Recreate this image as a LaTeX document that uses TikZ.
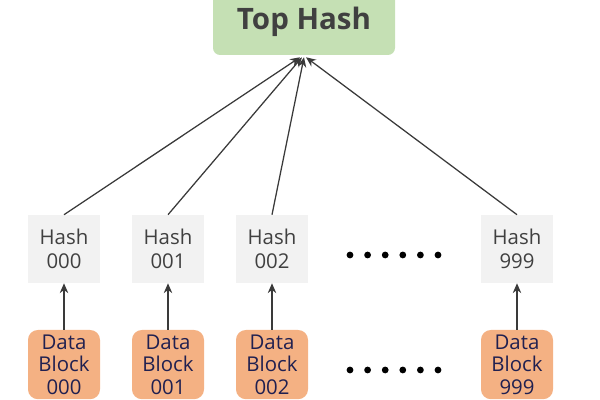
\documentclass[tikz,border=0pt]{standalone}
\usepackage{fontspec}
\setmainfont{Open Sans}
\usepackage{tikz}
\usetikzlibrary{arrows.meta}
\definecolor{topgreen}{HTML}{C5E0B4}
\definecolor{hashgray}{HTML}{F2F2F2}
\definecolor{blockorange}{HTML}{F4B183}
\definecolor{textgray}{HTML}{404040}
\definecolor{textnavy}{HTML}{202050}
\definecolor{linegray}{HTML}{3A3A3A}

\begin{document}
\begin{tikzpicture}[>={Stealth[length=7pt,width=6pt]},line join=bevel,
    tophash/.style={rectangle,rounded corners=5pt,fill=topgreen,minimum width=4.55cm,minimum height=1.65cm,text=textgray,font=\fontsize{21}{24}\selectfont\bfseries},
    hashbox/.style={rectangle,fill=hashgray,minimum width=1.8cm,minimum height=1.7cm,align=center,text=textgray,font=\fontsize{14.5}{17}\selectfont},
    blockbox/.style={rectangle,rounded corners=7pt,fill=blockorange,minimum width=1.8cm,minimum height=1.73cm,align=center,text=textnavy,font=\fontsize{14.5}{16}\selectfont},
    link/.style={color=linegray,line width=0.9pt,->}]
        \useasboundingbox (0,0) rectangle (15,10);
        \clip (0,0) rectangle (15,10);
        %
        \node (top) at (7.6,9.45) [tophash] {Top Hash};
        %
        \node (hash0) at (1.6,3.775) [hashbox] {Hash\\000};
        \node (hash1) at (4.2,3.775) [hashbox] {Hash\\001};
        \node (hash2) at (6.8,3.775) [hashbox] {Hash\\002};
        \node (hash9) at (12.925,3.775) [hashbox] {Hash\\999};
        %
        \node (block0) at (1.6,0.885) [blockbox] {Data\\Block\\000};
        \node (block1) at (4.2,0.885) [blockbox] {Data\\Block\\001};
        \node (block2) at (6.8,0.885) [blockbox] {Data\\Block\\002};
        \node (block9) at (12.925,0.885) [blockbox] {Data\\Block\\999};
        %
        \foreach \i in {0,...,5} {
            \fill (8.75+\i*0.44,3.625) circle (0.085);
            \fill (8.75+\i*0.44,0.75) circle (0.085);
        }
        %
        \draw [link] (block0) to (hash0);
        \draw [link] (block1) to (hash1);
        \draw [link] (block2) to (hash2);
        \draw [link] (block9) to (hash9);
        %
        \draw [link] (hash0.north) to ([xshift=-0.1cm,yshift=-0.05cm]top.south);
        \draw [link] (hash1.north) to ([xshift=-0.05cm,yshift=-0.05cm]top.south);
        \draw [link] (hash2.north) to ([yshift=-0.05cm]top.south);
        \draw [link] (hash9.north) to ([xshift=0.05cm,yshift=-0.05cm]top.south);
        %
\end{tikzpicture}
\end{document}
